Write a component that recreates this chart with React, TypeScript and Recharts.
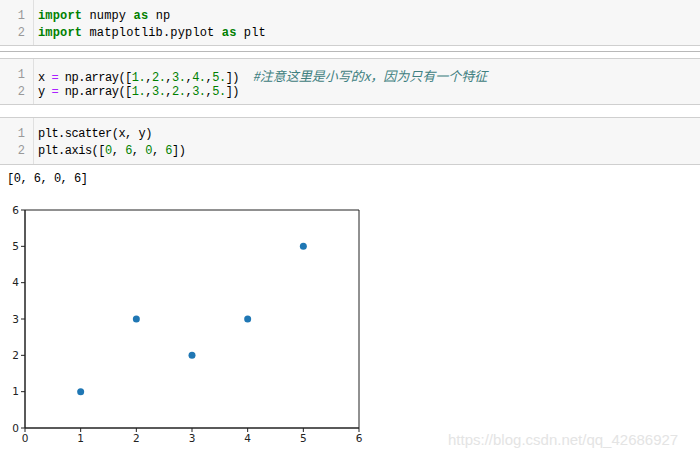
import React from "react";
import { ScatterChart, Scatter, XAxis, YAxis, ReferenceArea } from "recharts";

// values from the notebook cell
const xValues = [1, 2, 3, 4, 5];
const yValues = [1, 3, 2, 3, 5];
const xTicks = [0, 1, 2, 3, 4, 5, 6];
const yTicks = [0, 1, 2, 3, 4, 5, 6];

const points = xValues.map((x, i) => ({ x, y: yValues[i] }));

const GREEN = "#008000";
const PURPLE = "#aa22ff";
const COMMENT = "#408080";

type Seg = { t: string; c?: string; b?: boolean; i?: boolean; cjk?: boolean };

const CodeLine = ({ n, top, segs, wide }: { n: number; top: number; segs: Seg[]; wide?: boolean }) => (
  <>
    <div
      style={{
        position: "absolute", left: 0, width: 25, top, height: 17, lineHeight: "17px",
        textAlign: "right", color: "#999", fontFamily: "'Liberation Mono', monospace", fontSize: 12,
      }}
    >
      {n}
    </div>
    <div
      style={{
        position: "absolute", left: 38, top, height: 17, lineHeight: "17px", whiteSpace: "pre",
        fontFamily: "'Liberation Mono', monospace", fontSize: 12, color: "#000",
        letterSpacing: wide ? 0.15 : -0.5,
      }}
    >
      {segs.map((s, k) => (
        <span
          key={k}
          style={{
            color: s.c || "#000",
            fontWeight: s.b ? "bold" : "normal",
            fontStyle: s.i ? "italic" : "normal",
            fontFamily: s.cjk ? "'Noto Sans CJK SC', sans-serif" : undefined,
            fontSize: s.cjk ? 13 : undefined,
            letterSpacing: s.cjk ? 0 : undefined,
          }}
        >
          {s.t}
        </span>
      ))}
    </div>
  </>
);

const Cell = ({ top, height, children }: { top: number; height: number; children: React.ReactNode }) => (
  <div
    style={{
      position: "absolute", left: 0, top, width: 700, height, background: "#f7f7f7",
      borderTop: "1px solid #cfcfcf", borderBottom: "1px solid #cfcfcf", boxSizing: "border-box",
    }}
  >
    <div style={{ position: "absolute", left: 33, top: 0, bottom: 0, borderLeft: "1px solid #e0e0e0" }} />
    {children}
  </div>
);

const Dot = (props: any) => <circle cx={props.cx} cy={props.cy} r={3.5} fill="#1f77b4" />;

const tickStyle = { fontSize: 10.5, fill: "#222", fontFamily: "'DejaVu Sans', sans-serif" };

export default function App() {
  return (
    <div style={{ position: "absolute", left: 0, top: 0, width: 700, height: 459, background: "#fff", overflow: "hidden" }}>
      <Cell top={-1} height={47}>
        <CodeLine n={1} top={7.5} wide segs={[{ t: "import", c: GREEN, b: true }, { t: " numpy " }, { t: "as", c: GREEN, b: true }, { t: " np" }]} />
        <CodeLine n={2} top={24.5} wide segs={[{ t: "import", c: GREEN, b: true }, { t: " matplotlib.pyplot " }, { t: "as", c: GREEN, b: true }, { t: " plt" }]} />
      </Cell>
      <div style={{ position: "absolute", left: 0, top: 51, width: 700, borderTop: "1px solid #b8b8b8" }} />
      <Cell top={58} height={47}>
        <CodeLine
          n={1}
          top={7.5}
          segs={[
            { t: "x " }, { t: "=", c: PURPLE }, { t: " np.array([" },
            { t: "1.", c: GREEN }, { t: "," }, { t: "2.", c: GREEN }, { t: "," }, { t: "3.", c: GREEN }, { t: "," },
            { t: "4.", c: GREEN }, { t: "," }, { t: "5.", c: GREEN }, { t: "])  " },
            { t: "#注意这里是小写的x，因为只有一个特征", c: COMMENT, i: true, cjk: true },
          ]}
        />
        <CodeLine
          n={2}
          top={24.5}
          segs={[
            { t: "y " }, { t: "=", c: PURPLE }, { t: " np.array([" },
            { t: "1.", c: GREEN }, { t: "," }, { t: "3.", c: GREEN }, { t: "," }, { t: "2.", c: GREEN }, { t: "," },
            { t: "3.", c: GREEN }, { t: "," }, { t: "5.", c: GREEN }, { t: "])" },
          ]}
        />
      </Cell>
      <Cell top={117} height={48}>
        <CodeLine n={1} top={7.5} segs={[{ t: "plt.scatter(x, y)" }]} />
        <CodeLine
          n={2}
          top={24.5}
          segs={[
            { t: "plt.axis([" }, { t: "0", c: GREEN }, { t: ", " }, { t: "6", c: GREEN }, { t: ", " },
            { t: "0", c: GREEN }, { t: ", " }, { t: "6", c: GREEN }, { t: "])" },
          ]}
        />
      </Cell>
      <div
        style={{
          position: "absolute", left: 7, top: 170.5, height: 17, lineHeight: "17px", whiteSpace: "pre",
          fontFamily: "'Liberation Mono', monospace", fontSize: 12, letterSpacing: -0.5, color: "#000",
        }}
      >
        [0, 6, 0, 6]
      </div>

      <div style={{ position: "absolute", left: 0, top: 200 }}>
        <ScatterChart width={370} height={250} margin={{ top: 10, right: 11, bottom: 0, left: 0 }}>
          <XAxis
            type="number"
            dataKey="x"
            domain={[0, 6]}
            ticks={xTicks}
            interval={0}
            height={22}
            tickSize={4}
            tickMargin={3}
            stroke="#222"
            tick={tickStyle}
          />
          <YAxis
            type="number"
            dataKey="y"
            domain={[0, 6]}
            ticks={yTicks}
            interval={0}
            width={25}
            tickSize={4}
            tickMargin={2}
            stroke="#222"
            tick={tickStyle}
          />
          <ReferenceArea
            x1={xTicks[0]}
            x2={xTicks[xTicks.length - 1]}
            y1={yTicks[0]}
            y2={yTicks[yTicks.length - 1]}
            fill="none"
            fillOpacity={0}
            stroke="#222"
            strokeWidth={1}
          />
          <Scatter data={points} fill="#1f77b4" shape={Dot} isAnimationActive={false} />
        </ScatterChart>
      </div>

      <div
        style={{
          position: "absolute", left: 448, top: 431, lineHeight: "18px", fontSize: 15,
          fontFamily: "'Liberation Sans', Arial, sans-serif", color: "#e4e4e4", whiteSpace: "pre",
        }}
      >
        https://blog.csdn.net/qq_42686927
      </div>
    </div>
  );
}
